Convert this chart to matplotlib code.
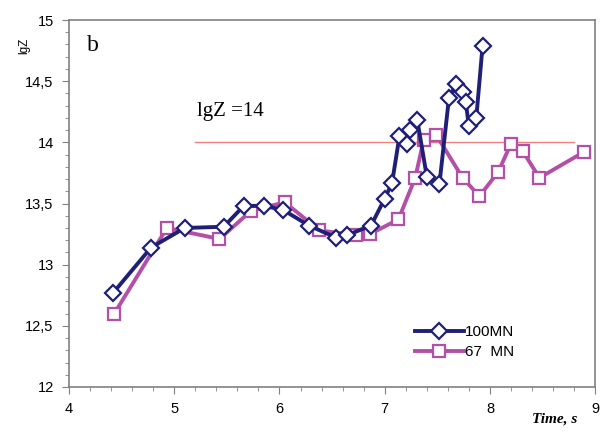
#!/usr/bin/env python3

# lgZ versus time for two loads (100 MN and 67 MN), with the lgZ = 14 level.

import matplotlib
matplotlib.use("Agg")
from matplotlib import pyplot as plt
from matplotlib.ticker import MultipleLocator, FuncFormatter

t_100 = [4.42, 4.78, 5.10, 5.47, 5.66, 5.85, 6.03, 6.28, 6.54, 6.64, 6.87,
         7.00, 7.07, 7.14, 7.21, 7.24, 7.31, 7.40, 7.52, 7.61, 7.68, 7.74,
         7.77, 7.80, 7.87, 7.93]
lgz_100 = [12.77, 13.14, 13.30, 13.31, 13.48, 13.48, 13.45, 13.32, 13.22,
           13.24, 13.32, 13.54, 13.67, 14.05, 13.99, 14.10, 14.18, 13.72,
           13.66, 14.36, 14.48, 14.41, 14.33, 14.13, 14.20, 14.79]

t_67 = [4.43, 4.93, 5.43, 5.73, 6.05, 6.38, 6.73, 6.86, 7.13, 7.29, 7.37,
        7.49, 7.74, 7.90, 8.08, 8.20, 8.31, 8.47, 8.89]
lgz_67 = [12.60, 13.30, 13.21, 13.44, 13.51, 13.28, 13.24, 13.25, 13.37,
          13.71, 14.02, 14.06, 13.71, 13.56, 13.76, 13.99, 13.93, 13.71, 13.92]

level_t = [5.2, 8.8]
level_lgz = [14, 14]

sans = ["Liberation Sans", "DejaVu Sans"]
serif = ["Liberation Serif", "DejaVu Serif"]

fig = plt.figure(figsize=(6, 4.36), dpi=100)
ax = fig.add_axes([0.115, 0.1124, 0.877, 0.8417])

ax.plot(level_t, level_lgz, color="#f08080", lw=1)
ax.plot(t_100, lgz_100, color="#1f1f78", lw=2.8, marker="D", ms=7.8,
        mfc="white", mec="#1f1f78", mew=1.6, label="100MN", zorder=3)
ax.plot(t_67, lgz_67, color="#b44fa8", lw=2.8, marker="s", ms=9,
        mfc="white", mec="#b44fa8", mew=1.6, label="67  MN", zorder=2)

ax.set_xlim(4, 9)
ax.set_ylim(12, 15)
ax.xaxis.set_major_locator(MultipleLocator(1))
ax.xaxis.set_minor_locator(MultipleLocator(0.2))
ax.yaxis.set_major_locator(MultipleLocator(0.5))
ax.yaxis.set_minor_locator(MultipleLocator(0.1))
ax.yaxis.set_major_formatter(FuncFormatter(lambda v, p: f"{v:g}".replace(".", ",")))

for s in ax.spines.values():
    s.set_color("#808080")
    s.set_linewidth(1.2)
ax.tick_params(which="major", direction="out", length=5, color="#808080",
               labelsize=10.5, pad=6)
ax.tick_params(which="minor", direction="out", length=3, color="#808080")
for lab in ax.get_xticklabels() + ax.get_yticklabels():
    lab.set_family(sans)

fig.text(0.04, 0.895, "lgZ", rotation=90, fontsize=8.5, family=sans,
         ha="center", va="center")
ax.text(0.035, 0.93, "b", transform=ax.transAxes, fontsize=17, family=serif,
        va="center")
ax.text(5.22, 14.25, "lgZ =14", fontsize=15, family=serif, va="center")
fig.text(0.925, 0.04, "Time, s", fontsize=11, family=serif, style="italic",
         weight="bold", ha="center", va="center")

ax.legend(loc="lower right", bbox_to_anchor=(0.873, 0.038), frameon=False,
          prop={"family": sans, "size": 11}, handlelength=3.2,
          handletextpad=0.1, labelspacing=0.4)

plt.savefig("out.png")
